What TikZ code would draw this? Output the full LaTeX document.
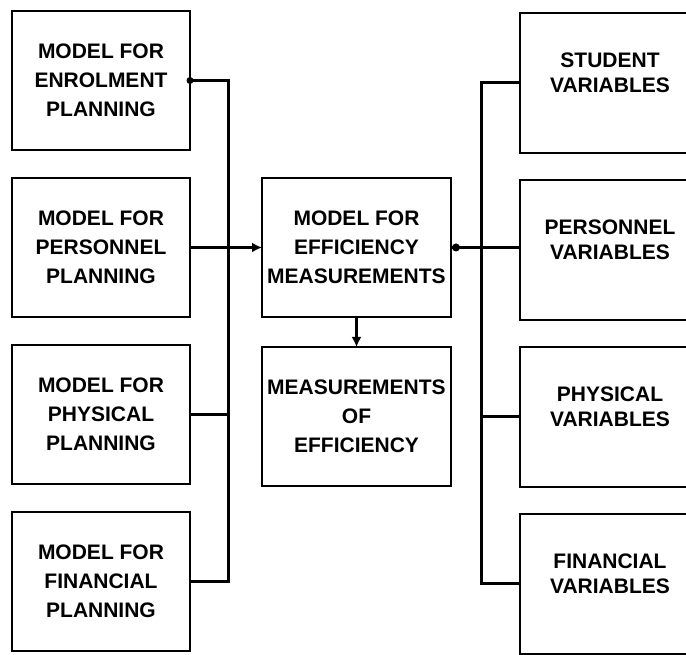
\documentclass[tikz,border=0pt]{standalone}
\usepackage{fontspec}
\setmainfont{Liberation Sans}
\usetikzlibrary{arrows.meta,positioning,calc}

\begin{document}
\begin{tikzpicture}[x=1pt,y=1pt]
\tikzstyle{block} = [rectangle, draw, line width=2.8pt, align=center, font=\bfseries\fontsize{21}{29}\selectfont, minimum width=178pt, minimum height=139pt, inner sep=0pt, outer sep=0pt]
\tikzstyle{varblock} = [block, minimum width=180pt, minimum height=140pt]
\tikzstyle{varlabel} = [align=center, font=\bfseries\fontsize{21}{25}\selectfont, yshift=10pt]
\tikzstyle{conn} = [draw, line width=3pt]
\tikzstyle{arrowconn} = [draw, line width=3pt, -{Latex[length=10pt,width=10pt]}]

\path[use as bounding box, clip] (0,0) rectangle (686,655);

% Planning models on the left
\node [block] (enrolModel) at (101,574.5) {MODEL FOR\\ENROLMENT\\PLANNING};
\node [block, below=28pt of enrolModel] (persModel) {MODEL FOR\\PERSONNEL\\PLANNING};
\node [block, below=28pt of persModel] (physModel) {MODEL FOR\\PHYSICAL\\PLANNING};
\node [block, below=28pt of physModel] (finModel) {MODEL FOR\\FINANCIAL\\PLANNING};

% Efficiency in the middle
\node [block, minimum width=189pt, right=72pt of persModel] (effModel) {MODEL FOR\\EFFICIENCY\\MEASUREMENTS};
\node [block, minimum width=189pt, below=30pt of effModel] (effMeas) {MEASUREMENTS\\OF\\EFFICIENCY};

% Variables on the right
\node [varblock, label={[varlabel]center:STUDENT\\VARIABLES}] (studVar) at (610,572) {};
\node [varblock, below=27pt of studVar, label={[varlabel]center:PERSONNEL\\VARIABLES}] (persVar) {};
\node [varblock, below=27pt of persVar, label={[varlabel]center:PHYSICAL\\VARIABLES}] (physVar) {};
\node [varblock, below=27pt of physVar, label={[varlabel]center:FINANCIAL\\VARIABLES}] (finVar) {};

% Left bus
\coordinate (lbusTop) at ($(enrolModel.east)+(38,0)$);
\coordinate (lbusBot) at (lbusTop |- finModel.east);
\draw [conn] (enrolModel.east) -- (lbusTop) -- (lbusBot) -- (finModel.east);
\draw [conn] (physModel.east) -- (physModel.east -| lbusTop);
\fill (enrolModel.east) circle (3.5pt);
\draw [arrowconn] (persModel.east) -- (effModel.west);
\draw [arrowconn] (effModel.south) -- (effMeas.north);

% Right bus
\coordinate (rbusTop) at ($(studVar.west)+(-39,0)$);
\coordinate (rbusBot) at (rbusTop |- finVar.west);
\draw [conn] (studVar.west) -- (rbusTop) -- (rbusBot) -- (finVar.west);
\draw [conn] (physVar.west) -- (physVar.west -| rbusTop);
\draw [conn] (effModel.east) -- (effModel.east -| persVar.west);
\fill ([xshift=5pt]effModel.east) circle (4pt);

\end{tikzpicture}
\end{document}
